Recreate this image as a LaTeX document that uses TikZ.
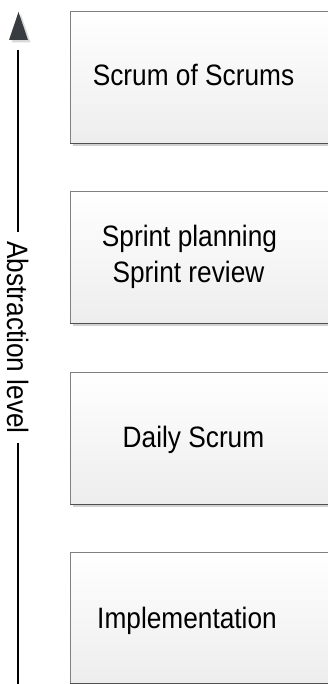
\documentclass[tikz,border=0pt]{standalone}
\usepackage{fontspec}
\setmainfont[FakeStretch=0.89]{Liberation Sans}
\usetikzlibrary{shadows}
\definecolor{boxline}{HTML}{808080}
\definecolor{boxbottom}{HTML}{505050}
\definecolor{headfill}{HTML}{383C40}
\begin{document}
\begin{tikzpicture}[x=1pt,y=1pt,
  level/.style={draw=boxline, line width=0.8pt, anchor=north west,
    minimum width=272pt, minimum height=132pt, inner sep=0pt,
    top color=white, middle color=white, bottom color=black!7,
    drop shadow={shadow xshift=3pt, shadow yshift=-3pt, fill=black!18, opacity=1}},
  leveltext/.style={anchor=base, inner sep=0pt, font=\fontsize{29.5}{35}\selectfont},
  axis/.style={line width=1.4pt, black}]
  \useasboundingbox (0,0) rectangle (328,-684);

  % the four levels
  \node[level] (b1) at (70,-11) {};
  \node[level] (b2) at (70,-191) {};
  \node[level] (b3) at (70,-372) {};
  \node[level, minimum height=130.5pt] (b4) at (70,-552) {};
  \foreach \b in {b1,b2,b3,b4}
    \draw[boxbottom, line width=1pt] (\b.south west) -- (\b.south east);

  \node[leveltext] (t1) at (193.5,-86) {Scrum of Scrums};
  \node[leveltext] (t2a) at (189.5,-247) {Sprint planning};
  \node[leveltext] (t2b) at (188.5,-282) {Sprint review};
  \node[leveltext] (t3) at (193.5,-447) {Daily Scrum};
  \node[leveltext] (t4) at (187,-628) {Implementation};

  % abstraction axis
  \fill[black!15] (11.5,-42.5) -- (30.5,-42.5) -- (21,-14.5) -- cycle;
  \fill[headfill] (9,-40) -- (28,-40) -- (18.5,-12) -- cycle;
  \coordinate (axtop) at (18,-50);
  \coordinate (axbot) at (18,-684);
  \node[rotate=-90, inner xsep=9pt, inner ysep=0pt,
        font=\fontsize{29.5}{35}\selectfont] (lbl) at (18,-337.5) {Abstraction level};
  \draw[axis] (axtop) -- (lbl.west);
  \draw[axis] (lbl.east) -- (axbot);
\end{tikzpicture}
\end{document}
